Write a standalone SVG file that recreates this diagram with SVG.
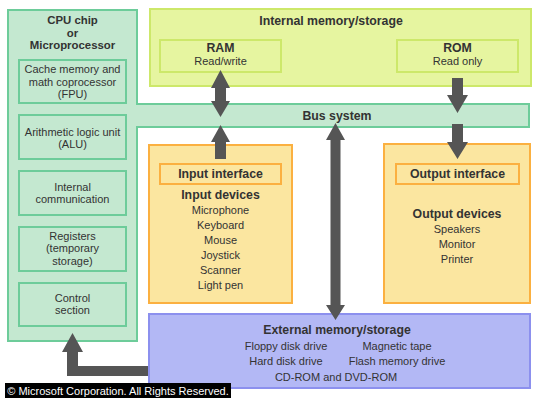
<svg xmlns="http://www.w3.org/2000/svg" width="540" height="400" viewBox="0 0 540 400">
<style>
text{font-family:"Liberation Sans",Arial,sans-serif;font-size:11px;fill:#333;text-anchor:middle}
.b{font-weight:bold;font-size:12.3px}
.h{font-weight:bold;font-size:11.4px}
.g{fill:#c4e8d0;stroke:#6dcc9a;stroke-width:2}
.y{fill:#e6f5a0;stroke:#cde86a;stroke-width:2}
.o{fill:#fbe6a0;stroke:#fbb040;stroke-width:2}
.bl{fill:#b3b8f5;stroke:#8c90ee;stroke-width:2}
.a{fill:#555}
</style>
<rect width="540" height="400" fill="#fff"/>
<g id="cpu">
<path class="g" d="M8,10 H137 V104 H529 V127 H137 V341 H8 Z"/>
<text class="h" x="72.5" y="24">CPU chip</text>
<text class="h" x="72.5" y="36.5">or</text>
<text class="h" x="72.5" y="49">Microprocessor</text>
</g>
<g id="bus"><text class="b" x="337" y="119.5">Bus system</text></g>
<g id="cache"><rect class="g" x="19" y="60" width="107" height="43"/>
<text x="72.5" y="73">Cache memory and</text><text x="72.5" y="85.5">math coprocessor</text><text x="72.5" y="98">(FPU)</text></g>
<g id="alu"><rect class="g" x="19" y="115" width="107" height="44"/>
<text x="72.5" y="135.5">Arithmetic logic unit</text><text x="72.5" y="148">(ALU)</text></g>
<g id="internal"><rect class="g" x="19" y="171" width="107" height="44"/>
<text x="72.5" y="190.5">Internal</text><text x="72.5" y="203">communication</text></g>
<g id="registers"><rect class="g" x="19" y="227" width="107" height="44"/>
<text x="72.5" y="239.5">Registers</text><text x="72.5" y="252">(temporary</text><text x="72.5" y="264.5">storage)</text></g>
<g id="control"><rect class="g" x="19" y="283" width="107" height="43"/>
<text x="72.5" y="301.5">Control</text><text x="72.5" y="314">section</text></g>
<g id="intmem"><rect class="y" x="150" y="9" width="381" height="77"/>
<text class="b" x="331" y="25">Internal memory/storage</text></g>
<g id="ram"><rect class="y" x="160" y="40" width="121" height="32"/>
<text class="b" x="220.5" y="52">RAM</text><text x="220.5" y="65">Read/write</text></g>
<g id="rom"><rect class="y" x="397" y="40" width="121" height="32"/>
<text class="b" x="457.5" y="52">ROM</text><text x="457.5" y="65">Read only</text></g>
<g id="input"><rect class="o" x="149" y="145" width="143" height="158"/>
<text class="b" x="220.5" y="198.5">Input devices</text>
<text x="220.5" y="213.7">Microphone</text><text x="220.5" y="228.7">Keyboard</text><text x="220.5" y="243.7">Mouse</text><text x="220.5" y="258.7">Joystick</text><text x="220.5" y="273.7">Scanner</text><text x="220.5" y="288.7">Light pen</text></g>
<g id="inputif"><rect class="o" x="160" y="164" width="121" height="20"/>
<text class="b" x="220.5" y="178">Input interface</text></g>
<g id="output"><rect class="o" x="384" y="144" width="146" height="159"/>
<text class="b" x="457" y="217.5">Output devices</text>
<text x="457" y="232.5">Speakers</text><text x="457" y="247.5">Monitor</text><text x="457" y="262.5">Printer</text></g>
<g id="outputif"><rect class="o" x="396" y="164" width="123" height="20"/>
<text class="b" x="457.5" y="178">Output interface</text></g>
<g id="external"><rect class="bl" x="149" y="314" width="381" height="74"/>
<text class="b" x="337" y="334">External memory/storage</text>
<text x="286" y="349.5">Floppy disk drive</text><text x="397" y="349.5">Magnetic tape</text>
<text x="286" y="364.5">Hard disk drive</text><text x="397" y="364.5">Flash memory drive</text>
<text x="336" y="380.5">CD-ROM and DVD-ROM</text></g>
<g id="connectors">
<polygon class="a" points="220.5,70 230,88 226,88 226,101 230,101 220.5,117 211,101 215,101 215,88 211,88"/>
<polygon class="a" points="220.5,125 230,142 226,142 226,159 215,159 215,142 211,142"/>
<polygon class="a" points="335.5,123 345,140 340.5,140 340.5,305 345,305 335.5,320 326,305 330.5,305 330.5,140 326,140"/>
<polygon class="a" points="452,78 463,78 463,95 468,95 457.5,113 447,95 452,95"/>
<polygon class="a" points="452,124 463,124 463,142 468,142 457.5,159 447,142 452,142"/>
<polygon class="a" points="72.5,333 83,352 78,352 78,366 148,366 148,376 67,376 67,352 62,352"/>
</g>
<g id="copyright"><rect x="5" y="383" width="226" height="15" fill="#000"/>
<text x="118" y="395" style="fill:#fff">© Microsoft Corporation. All Rights Reserved.</text></g>
</svg>
